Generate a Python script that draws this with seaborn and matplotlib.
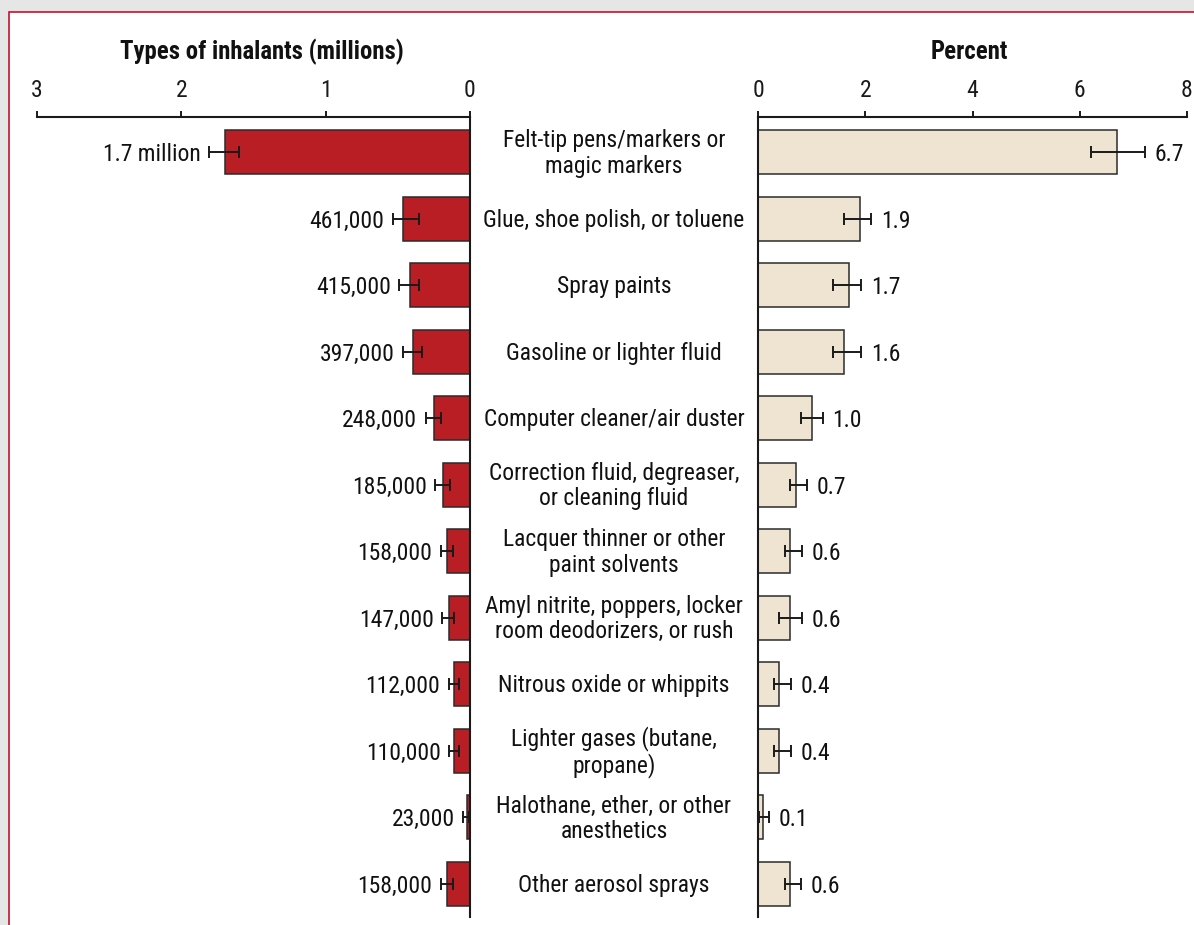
import matplotlib
matplotlib.use("Agg")
import matplotlib.pyplot as plt
from matplotlib.patches import Rectangle
from matplotlib.transforms import blended_transform_factory
import seaborn as sns
import pandas as pd

sns.set_theme(style="white")
plt.rcParams['font.family'] = ['Roboto Condensed', 'Archivo Narrow', 'PT Sans Narrow',
                               'Fira Sans Condensed', 'IBM Plex Sans Condensed',
                               'Liberation Sans', 'DejaVu Sans']

categories = [
    "Felt-tip pens/markers or\nmagic markers",
    "Glue, shoe polish, or toluene",
    "Spray paints",
    "Gasoline or lighter fluid",
    "Computer cleaner/air duster",
    "Correction fluid, degreaser,\nor cleaning fluid",
    "Lacquer thinner or other\npaint solvents",
    "Amyl nitrite, poppers, locker\nroom deodorizers, or rush",
    "Nitrous oxide or whippits",
    "Lighter gases (butane,\npropane)",
    "Halothane, ether, or other\nanesthetics",
    "Other aerosol sprays",
]
count_labels = ["1.7 million", "461,000", "415,000", "397,000", "248,000", "185,000",
                "158,000", "147,000", "112,000", "110,000", "23,000", "158,000"]
counts_m = [1.70, 0.461, 0.415, 0.397, 0.248, 0.185, 0.158, 0.147, 0.112, 0.110, 0.023, 0.158]
counts_lo = [1.60, 0.353, 0.353, 0.333, 0.199, 0.139, 0.120, 0.111, 0.078, 0.078, 0.004, 0.120]
counts_hi = [1.81, 0.536, 0.490, 0.466, 0.307, 0.240, 0.203, 0.194, 0.148, 0.146, 0.046, 0.203]

pct = [6.7, 1.9, 1.7, 1.6, 1.0, 0.7, 0.6, 0.6, 0.4, 0.4, 0.1, 0.6]
pct_lo = [6.21, 1.61, 1.39, 1.39, 0.80, 0.60, 0.50, 0.40, 0.29, 0.29, 0.02, 0.50]
pct_hi = [7.21, 2.11, 1.92, 1.92, 1.21, 0.92, 0.82, 0.82, 0.61, 0.61, 0.21, 0.80]
pct_labels = ["6.7", "1.9", "1.7", "1.6", "1.0", "0.7", "0.6", "0.6", "0.4", "0.4", "0.1", "0.6"]

left_ticks = [3, 2, 1, 0]
right_ticks = [0, 2, 4, 6, 8]

df = pd.DataFrame({"cat": categories, "count": counts_m, "pct": pct})

W, H = 1194, 925
fig = plt.figure(figsize=(W / 100, H / 100), dpi=100)
fig.patch.set_facecolor("#e6e6e6")
fig.add_artist(Rectangle((9 / W, -1), 2, 1 - 11.5 / H + 1, transform=fig.transFigure,
                         facecolor="white", edgecolor="#c8102e", linewidth=1.2, zorder=0))

top_px, bot_px = 117, 917
axL = fig.add_axes([37 / W, 1 - bot_px / H, (470 - 37) / W, (bot_px - top_px) / H])
axR = fig.add_axes([758 / W, 1 - bot_px / H, (1187 - 758) / W, (bot_px - top_px) / H])
for a in (axL, axR):
    a.set_facecolor("none")

red = "#b91e25"
beige = "#efe4d1"
edge = "#2b2b2b"

sns.barplot(data=df, x="count", y="cat", orient="h", color=red, saturation=1,
            edgecolor=edge, linewidth=1.1, width=0.66, errorbar=None, ax=axL)
sns.barplot(data=df, x="pct", y="cat", orient="h", color=beige, saturation=1,
            edgecolor=edge, linewidth=1.1, width=0.66, errorbar=None, ax=axR)

ypos = list(range(len(categories)))
axL.errorbar(counts_m, ypos,
             xerr=[[m - lo for m, lo in zip(counts_m, counts_lo)],
                   [hi - m for m, hi in zip(counts_m, counts_hi)]],
             fmt="none", ecolor="#1a1a1a", elinewidth=1.4, capsize=4, capthick=1.4, zorder=5)
axR.errorbar(pct, ypos,
             xerr=[[m - lo for m, lo in zip(pct, pct_lo)],
                   [hi - m for m, hi in zip(pct, pct_hi)]],
             fmt="none", ecolor="#1a1a1a", elinewidth=1.4, capsize=4, capthick=1.4, zorder=5)

axL.set_xlim(3, 0)
axR.set_xlim(0, 8)
for a in (axL, axR):
    a.set_ylim(11.5, -0.53)
    a.set_ylabel("")
    a.set_xlabel("")
    a.set_yticks([])
    a.xaxis.tick_top()
    a.tick_params(axis="x", direction="out", length=4.5, width=1.4, colors="#1a1a1a",
                  labelsize=17, pad=6, top=True, bottom=False)
    for s in a.spines.values():
        s.set_linewidth(1.5)
        s.set_color("#1a1a1a")
    a.spines["bottom"].set_visible(False)

axL.set_xticks(left_ticks)
axL.set_xticklabels([str(t) for t in left_ticks])
axR.set_xticks(right_ticks)
axR.set_xticklabels([str(t) for t in right_ticks])
axL.spines["left"].set_visible(False)
axR.spines["right"].set_visible(False)

fig.text(262 / W, 1 - 52 / H, "Types of inhalants (millions)", ha="center", va="center",
         fontsize=17.8, fontweight="bold", color="#111111")
fig.text(969 / W, 1 - 52 / H, "Percent", ha="center", va="center",
         fontsize=17.8, fontweight="bold", color="#111111")

trans = blended_transform_factory(fig.transFigure, axL.transData)
for i, c in enumerate(categories):
    axL.text(614 / W, i + 0.02, c, transform=trans, ha="center", va="center",
             fontsize=16.9, linespacing=1.12, color="#111111", clip_on=False)

for i in ypos:
    axL.annotate(count_labels[i], xy=(counts_hi[i], i), xytext=(-6, 0),
                 textcoords="offset points", ha="right", va="center_baseline",
                 fontsize=17, color="#111111", annotation_clip=False)
    axR.annotate(pct_labels[i], xy=(pct_hi[i], i), xytext=(7, 0),
                 textcoords="offset points", ha="left", va="center_baseline",
                 fontsize=17, color="#111111", annotation_clip=False)

fig.savefig("out.png", dpi=100, facecolor=fig.get_facecolor())
